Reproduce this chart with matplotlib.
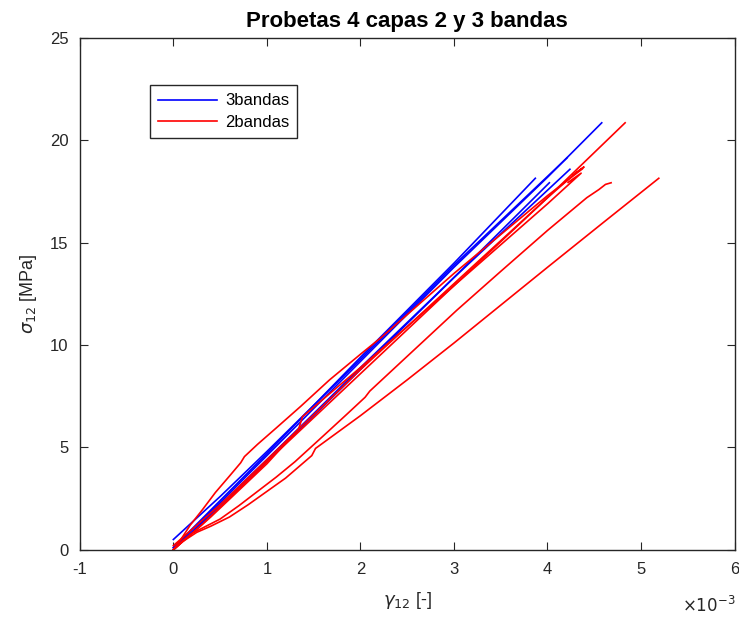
import matplotlib.pyplot as plt
import numpy as np
from matplotlib.ticker import FuncFormatter

plt.rcParams["font.family"] = ["Liberation Sans", "DejaVu Sans"]
plt.rcParams["axes.unicode_minus"] = False

# strain values in units of 1e-3, stress in MPa
b1_x = [0, 0.5, 1, 2, 3, 4, 4.58]
b1_y = [0.1, 2.3, 4.6, 9.2, 13.8, 18.2, 20.86]
b2_x = [0, 0.5, 1, 2, 3, 3.87]
b2_y = [0.1, 2.4, 4.7, 9.4, 14.0, 18.15]
b3_x = [0, 0.5, 1, 2, 3, 4.02]
b3_y = [0.0, 2.1, 4.3, 8.8, 13.3, 17.93]
b4_x = [0, 0.5, 1, 2, 3, 4.24]
b4_y = [0.0, 2.2, 4.4, 8.9, 13.3, 18.59]
b5_x = [0, 0.5, 1, 2, 3, 4.21]
b5_y = [0.5, 2.6, 4.8, 9.3, 13.9, 19.15]

r1_x = [0, 0.3, 1, 2, 3, 4, 4.83]
r1_y = [0.0, 1.2, 4.3, 8.6, 12.9, 17.2, 20.86]
r2_x = [0, 0.5, 1, 2, 3, 4, 4.3, 4.39, 4.27]
r2_y = [0.2, 2.2, 4.4, 8.8, 13.0, 17.2, 18.4, 18.7, 18.3]
r3_x = [0, 0.1, 0.2, 0.35, 0.5, 0.7, 0.9, 1.1, 1.3, 1.6, 1.85, 2.05, 2.1,
        2.5, 3.03, 3.5, 4.0, 4.42, 4.55, 4.62, 4.68]
r3_y = [0.0, 0.45, 0.8, 1.15, 1.5, 2.15, 2.85, 3.55, 4.3, 5.55, 6.6, 7.45, 7.75,
        9.45, 11.7, 13.6, 15.6, 17.2, 17.6, 17.85, 17.93]
r4_x = [0, 0.1, 0.25, 0.4, 0.6, 0.8, 1.0, 1.2, 1.48, 1.52, 2.0, 2.5, 3.0,
        3.5, 4.0, 4.6, 5.19]
r4_y = [0.0, 0.4, 0.85, 1.15, 1.6, 2.2, 2.85, 3.5, 4.6, 4.95, 6.55, 8.3, 10.1,
        11.95, 13.8, 16.0, 18.15]
r5_x = [0, 0.08, 0.18, 0.31, 0.45, 0.6, 0.72, 0.76, 0.9, 1.1, 1.36, 1.67, 2.0,
        2.23, 3, 4, 4.37]
r5_y = [0.0, 0.5, 1.2, 1.95, 2.8, 3.6, 4.25, 4.55, 5.15, 5.95, 7.0, 8.3, 9.55,
        10.4, 13.5, 17.3, 18.6]
r6_x = [0, 0.4, 1, 1.34, 1.38, 2, 3, 4, 4.36, 4.22]
r6_y = [0.0, 1.6, 4.2, 5.9, 6.5, 8.9, 12.9, 16.9, 18.4, 17.95]

blue = [(b1_x, b1_y), (b2_x, b2_y), (b3_x, b3_y), (b4_x, b4_y), (b5_x, b5_y)]
red = [(r1_x, r1_y), (r2_x, r2_y), (r3_x, r3_y), (r4_x, r4_y), (r5_x, r5_y), (r6_x, r6_y)]

fig = plt.figure(figsize=(7.39, 6.24), dpi=100)
ax = fig.add_axes([0.108, 0.119, 0.886, 0.820])

for xs, ys in blue:
    hb, = ax.plot(np.array(xs) * 1e-3, ys, color="blue", lw=1.2)
for xs, ys in red:
    hr, = ax.plot(np.array(xs) * 1e-3, ys, color="red", lw=1.2)

ax.set_xlim(-1e-3, 6e-3)
ax.set_ylim(0, 25)
ax.set_xticks(np.arange(-1, 7) * 1e-3)
ax.set_yticks([0, 5, 10, 15, 20, 25])
ax.xaxis.set_major_formatter(FuncFormatter(lambda v, p: f"{round(v * 1e3):d}"))

gray = "#262626"
for s in ax.spines.values():
    s.set_color(gray)
    s.set_linewidth(1.0)
ax.tick_params(direction="in", length=6, top=True, right=True, colors=gray,
               labelsize=12)
ax.tick_params(axis="x", pad=9)
ax.tick_params(axis="y", pad=8)

fig.text(0.995, 0.015, r"$\times10^{-3}$", ha="right", va="bottom",
         fontsize=12, color=gray)

ax.set_title("Probetas 4 capas 2 y 3 bandas", fontsize=16, fontweight="bold", pad=8)
ax.set_xlabel(r"$\gamma_{12}$ [-]", fontsize=13, color=gray, labelpad=9)
ax.set_ylabel(r"$\sigma_{12}$ [MPa]", fontsize=13, color=gray, labelpad=8)

leg = ax.legend([hb, hr], ["3bandas", "2bandas"], loc="upper left",
                bbox_to_anchor=(0.107, 0.908), borderaxespad=0, fancybox=False,
                framealpha=1, edgecolor=gray, fontsize=12, handlelength=3.5,
                handletextpad=0.5, borderpad=0.5, labelspacing=0.4)
leg.get_frame().set_linewidth(1.0)

fig.savefig("out.png", dpi=100)
